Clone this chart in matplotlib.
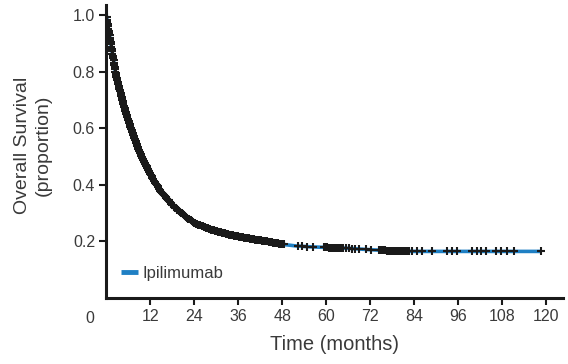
import numpy as np
import matplotlib
matplotlib.use("Agg")
import matplotlib.pyplot as plt
import matplotlib.transforms as mtransforms

# Kaplan-Meier estimate (months, proportion alive)
km_time = [0, 0.5, 1, 1.5, 2, 2.5, 3, 4, 5, 6, 7, 8, 9, 10, 11, 12, 13, 14, 15,
           16, 18, 20, 22, 24, 26, 28, 30, 33, 36, 40, 44, 48, 52, 56, 60,
           66, 72, 78, 84, 96, 108, 118.5]
km_surv = [1.0, 0.96, 0.92, 0.88, 0.84, 0.80, 0.77, 0.72, 0.67, 0.63, 0.59,
           0.555, 0.52, 0.49, 0.465, 0.44, 0.415, 0.395, 0.375, 0.36, 0.33,
           0.305, 0.285, 0.265, 0.255, 0.245, 0.237, 0.226, 0.218, 0.208,
           0.200, 0.190, 0.184, 0.181, 0.179, 0.176, 0.171, 0.167, 0.165,
           0.165, 0.165, 0.165]

# censored patients (months) - very dense in the first four years
censor_times = [
    0.1, 0.2, 0.3, 0.4, 0.5, 0.6, 0.7, 0.8, 0.9, 1.0, 1.1, 1.2, 1.3, 1.4,
    1.5, 1.6, 1.7, 1.8, 1.9, 2.0, 2.1, 2.2, 2.3, 2.4, 2.5, 2.6, 2.7, 2.8,
    2.9, 3.0, 3.1, 3.2, 3.3, 3.4, 3.5, 3.6, 3.7, 3.8, 3.9, 4.0, 4.1, 4.2,
    4.3, 4.4, 4.5, 4.6, 4.7, 4.8, 4.9, 5.0, 5.1, 5.2, 5.3, 5.4, 5.5, 5.6,
    5.7, 5.8, 5.9, 6.0, 6.1, 6.2, 6.3, 6.4, 6.5, 6.6, 6.7, 6.8, 6.9, 7.0,
    7.1, 7.2, 7.3, 7.4, 7.5, 7.6, 7.7, 7.8, 7.9, 8.0, 8.1, 8.2, 8.3, 8.4,
    8.5, 8.6, 8.7, 8.8, 8.9, 9.0, 9.1, 9.2, 9.3, 9.4, 9.5, 9.6, 9.7, 9.8,
    9.9, 10.0, 10.1, 10.2, 10.3, 10.4, 10.5, 10.6, 10.7, 10.8, 10.9, 11.0,
    11.1, 11.2, 11.3, 11.4, 11.5, 11.6, 11.7, 11.8, 11.9, 12.0,
    12.2, 12.4, 12.6, 12.8, 13.0, 13.2, 13.4, 13.6, 13.8, 14.0, 14.2, 14.4,
    14.6, 14.8, 15.0, 15.2, 15.4, 15.6, 15.8, 16.0, 16.2, 16.4, 16.6, 16.8,
    17.0, 17.2, 17.4, 17.6, 17.8, 18.0, 18.2, 18.4, 18.6, 18.8, 19.0, 19.2,
    19.4, 19.6, 19.8, 20.0, 20.3, 20.6, 20.9, 21.2, 21.5, 21.8, 22.1, 22.4,
    22.7, 23.0, 23.3, 23.6, 23.9, 24.2, 24.5, 24.8, 25.1, 25.4, 25.7, 26.0,
    26.3, 26.6, 26.9, 27.2, 27.5, 27.8, 28.1, 28.4, 28.7, 29.0, 29.3, 29.6,
    29.9, 30.2, 30.5, 30.8, 31.1, 31.4, 31.7, 32.0, 32.3, 32.6, 32.9, 33.2,
    33.5, 33.8, 34.1, 34.4, 34.7, 35.0, 35.3, 35.6, 35.9, 36.2, 36.5, 36.8,
    37.1, 37.4, 37.7, 38.0, 38.3, 38.6, 38.9, 39.2, 39.5, 39.8, 40.1, 40.4,
    40.7, 41.0, 41.3, 41.6, 41.9, 42.2, 42.5, 42.8, 43.1, 43.4, 43.7, 44.0,
    44.4, 44.8, 45.2, 45.6, 46.0, 46.4, 46.8, 47.2, 47.6, 48.0, 48.4,
    52.2, 53.5, 54.9, 56.3,
    59.5, 59.9, 60.3, 60.7, 61.1, 61.5, 61.9, 62.3, 62.7, 63.1, 63.5, 64.0,
    64.6, 65.3, 66.2, 67.1, 68.0, 69.0,
    70.8, 72.2,
    74.5, 74.9, 75.3, 75.7, 76.1, 76.5, 76.9, 77.3, 77.7, 78.1, 78.5, 78.9,
    79.3, 79.7, 80.1, 80.5, 80.9, 81.4, 82.0, 82.6,
    83.5, 84.8, 86.2, 88.9, 93.0, 94.4, 95.7, 99.8, 101.2, 102.3, 103.6,
    106.3, 107.7, 109.4, 111.3, 118.5,
]

xticks = [12, 24, 36, 48, 60, 72, 84, 96, 108, 120]
yticks = [0.2, 0.4, 0.6, 0.8, 1.0]

tick_font = ["Liberation Sans", "DejaVu Sans"]
label_font = ["Liberation Sans Narrow", "Liberation Sans", "DejaVu Sans"]
txt_color = "#3a3a3a"

fig = plt.figure(figsize=(5.68, 3.64), dpi=100)
ax = fig.add_axes([0.187, 0.181, 0.804, 0.805])

blue = "#1f80c4"
ax.plot(km_time, km_surv, color=blue, lw=2.6, solid_capstyle="butt",
        label="Ipilimumab", zorder=2)
cens_y = np.interp(censor_times, km_time, km_surv)
ax.plot(censor_times, cens_y, ls="none", marker="+", ms=6, mew=1.5,
        color="#1a1a1a", zorder=3)

ax.set_xlim(0, 124.6)
ax.set_ylim(0, 1.035)
ax.set_xticks(xticks)
ax.set_yticks(yticks)
ax.set_yticklabels([f"{v:.1f}" for v in yticks])

for s in ["top", "right"]:
    ax.spines[s].set_visible(False)
for s in ["left", "bottom"]:
    ax.spines[s].set_linewidth(2.2)
    ax.spines[s].set_color("#1a1a1a")

ax.tick_params(direction="out", length=5, width=1.5, color="#1a1a1a",
               labelcolor=txt_color, labelsize=11.5, pad=3)
for lab in ax.get_xticklabels() + ax.get_yticklabels():
    lab.set_family(tick_font)

# origin label shared by both axes
trans = mtransforms.blended_transform_factory(ax.transData, ax.transAxes)
ax.text(-4.5, -0.045, "0", transform=trans, ha="center", va="top",
        fontsize=11.5, color=txt_color, family=tick_font)

ax.set_xlabel("Time (months)", fontsize=14.5, color=txt_color,
              family=label_font, labelpad=8)
ylab = fig.text(0.058, 0.6, "Overall Survival\n(proportion)", rotation=90,
                ha="center", va="center", fontsize=14, color=txt_color,
                family=label_font, linespacing=1.3)

leg = ax.legend(loc="lower left", bbox_to_anchor=(0.0, 0.008),
                frameon=False, handlelength=1.0, handletextpad=0.25,
                prop={"family": tick_font, "size": 12})
for t in leg.get_texts():
    t.set_color(txt_color)
for h in leg.get_lines():
    h.set_linewidth(3.5)

fig.savefig("out.png", dpi=100)
